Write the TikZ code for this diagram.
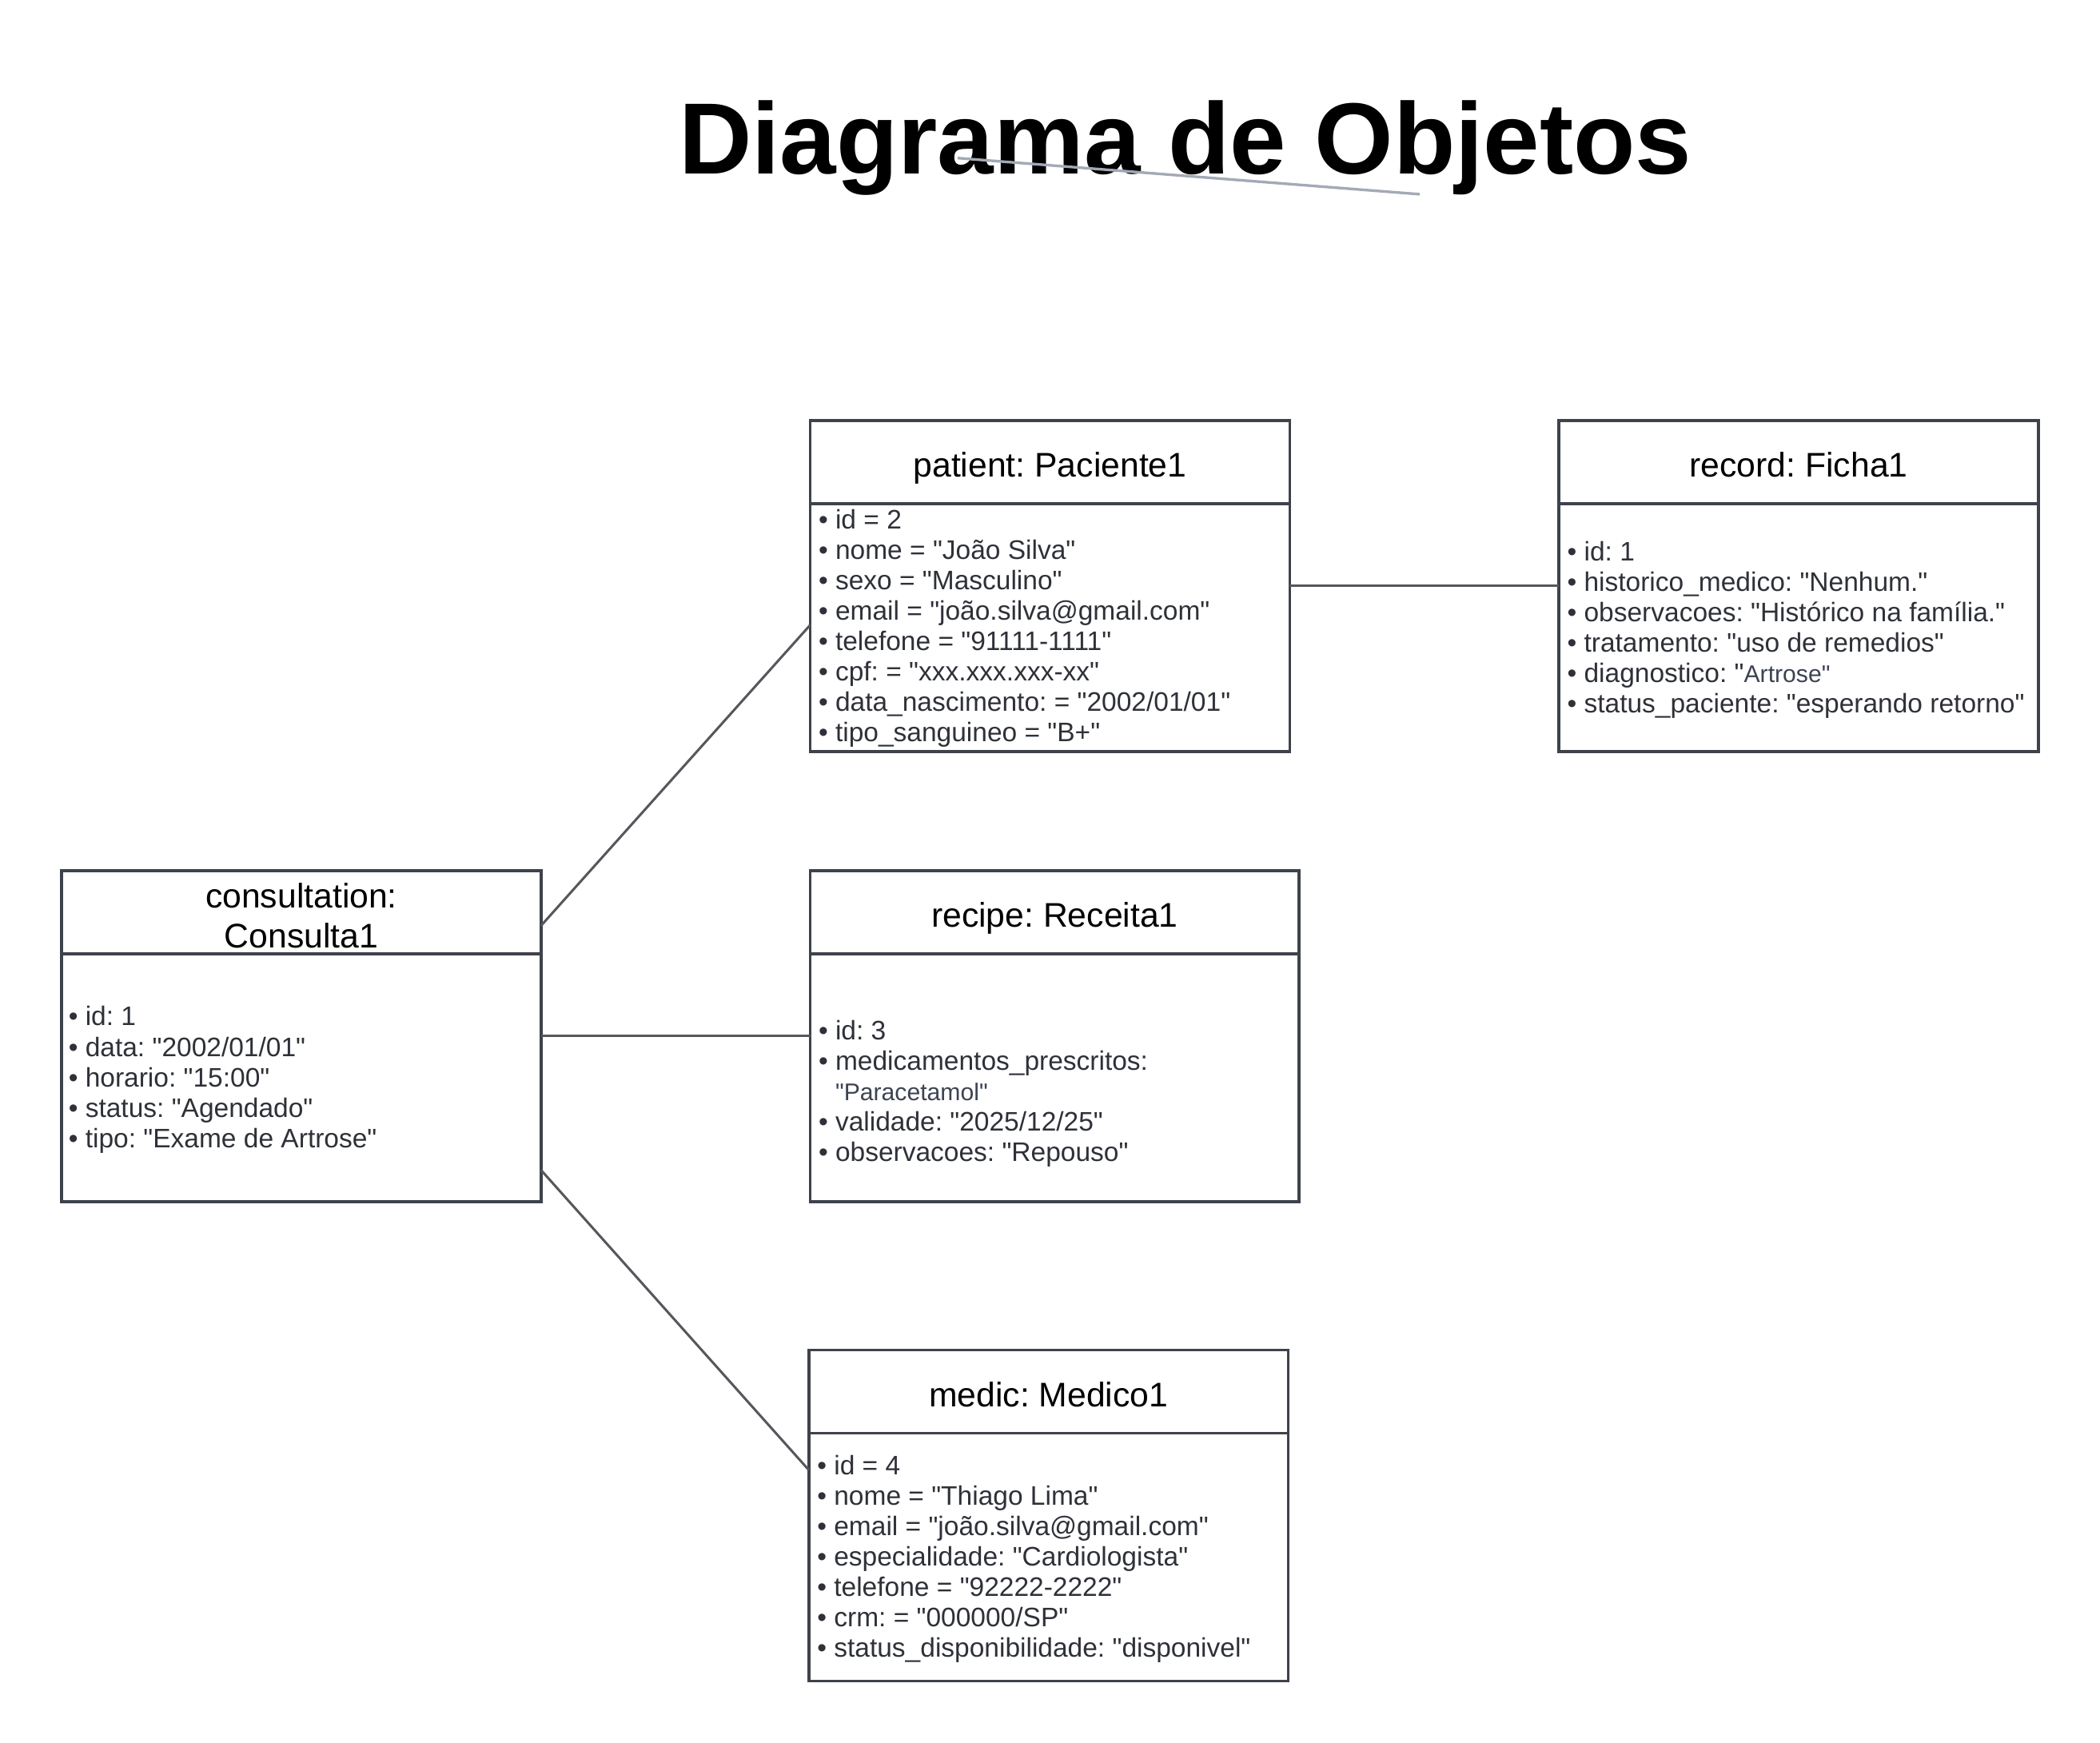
\documentclass[tikz,border=0pt]{standalone}
\usepackage{fontspec}
\setmainfont{Liberation Sans}[Ligatures=TeXOff]
\usetikzlibrary{positioning}
\definecolor{boxline}{HTML}{3E424B}
\definecolor{conn}{HTML}{55575C}
\definecolor{attrtext}{HTML}{2E3138}
\definecolor{softtext}{HTML}{3D4352}
\definecolor{stray}{HTML}{A4A9B6}
\newcommand{\softtxt}[1]{{\fontsize{18}{22.7}\selectfont\color{softtext}#1}}
\begin{document}
\frenchspacing
\begin{tikzpicture}[x=1pt,y=-1pt,
  objhead/.style={draw=boxline, line width=2pt, minimum height=62pt, inner sep=0pt, outer sep=0pt,
    font=\fontsize{25.5}{30}\selectfont\frenchspacing, align=center, text=black},
  onehead/.style={objhead, text height=22pt, text depth=0pt},
  objbody/.style={draw=boxline, line width=2pt, inner sep=0pt, outer sep=0pt, minimum height=185pt, below=0pt of #1},
  attrs/.style={anchor=west, inner sep=0pt, align=left, text=attrtext,
    font=\fontsize{20}{22.7}\selectfont\frenchspacing},
  link/.style={draw=conn, line width=1.8pt},
  titlefont/.style={font=\fontsize{75.6}{80}\selectfont\bfseries, inner sep=0pt, anchor=base}]

\fill[white] (0,0) rectangle (1568,1301);
\useasboundingbox (0,0) rectangle (1568,1301);

% title
\node[titlefont] (title) at (885,130) {Diagrama de Objetos};
\coordinate (strayA) at (715,118);
\coordinate (strayB) at (1060,145);
\draw[stray, line width=2pt] (strayA) -- (strayB);

% patient
\node[onehead, minimum width=358pt] (pat-h) at (784,345) {patient: Paciente1};
\node[objbody=pat-h, minimum width=358pt] (pat-b) {};
\node[attrs] (pat-t) at ([xshift=6pt,yshift=-0.5pt]pat-b.west) {%
• id = 2\\
• nome = "João Silva"\\
• sexo = "Masculino"\\
• email = "joão.silva@gmail.com"\\
• telefone = "91111-1111"\\
• cpf: = "xxx.xxx.xxx-xx"\\
• data\_nascimento: = "2002/01/01"\\
• tipo\_sanguineo = "B+"};

% record
\node[onehead, minimum width=358pt] (rec-h) at (1343,345) {record: Ficha1};
\node[objbody=rec-h, minimum width=358pt] (rec-b) {};
\node[attrs] (rec-t) at ([xshift=6pt,yshift=-1.5pt]rec-b.west) {%
• id: 1\\
• historico\_medico: "Nenhum."\\
• observacoes: "Histórico na família."\\
• tratamento: "uso de remedios"\\
• diagnostico: "\softtxt{Artrose"}\\
• status\_paciente: "esperando retorno"};

% consultation
\node[objhead, minimum width=358pt] (con-h) at (225,681) {\rule{0pt}{24pt}consultation:\\Consulta1};
\node[objbody=con-h, minimum width=358pt] (con-b) {};
\node[attrs] (con-t) at ([xshift=5pt,yshift=-1.5pt]con-b.west) {%
• id: 1\\
• data: "2002/01/01"\\
• horario: "15:00"\\
• status: "Agendado"\\
• tipo: "Exame de Artrose"};

% recipe
\node[onehead, minimum width=365pt] (rcp-h) at (787.5,681) {recipe: Receita1};
\node[objbody=rcp-h, minimum width=365pt] (rcp-b) {};
\node[attrs] (rcp-t) at ([xshift=6pt,yshift=-12pt]rcp-b.west) {%
• id: 3\\
• medicamentos\_prescritos:\\
\phantom{• }\softtxt{"Paracetamol"}\\
• validade: "2025/12/25"\\
• observacoes: "Repouso"};

% medic
\node[onehead, minimum width=358pt] (med-h) at (783,1039) {medic: Medico1};
\node[objbody=med-h, minimum width=358pt] (med-b) {};
\node[attrs] (med-t) at ([xshift=6pt,yshift=-1.5pt]med-b.west) {%
• id = 4\\
• nome = "Thiago Lima"\\
• email = "joão.silva@gmail.com"\\
• especialidade: "Cardiologista"\\
• telefone = "92222-2222"\\
• crm: = "000000/SP"\\
• status\_disponibilidade: "disponivel"};

% connectors
\draw[link] ([yshift=21pt]con-b.north east) -- ([yshift=2pt]pat-b.west);
\draw[link] ([yshift=31.5pt]pat-b.east) -- ([yshift=31.5pt]rec-b.west);
\draw[link] ([yshift=31pt]con-b.east) -- ([yshift=31pt]rcp-b.west);
\draw[link] ([yshift=-69pt]con-b.east) -- ([yshift=65pt]med-b.west);
\end{tikzpicture}
\end{document}
